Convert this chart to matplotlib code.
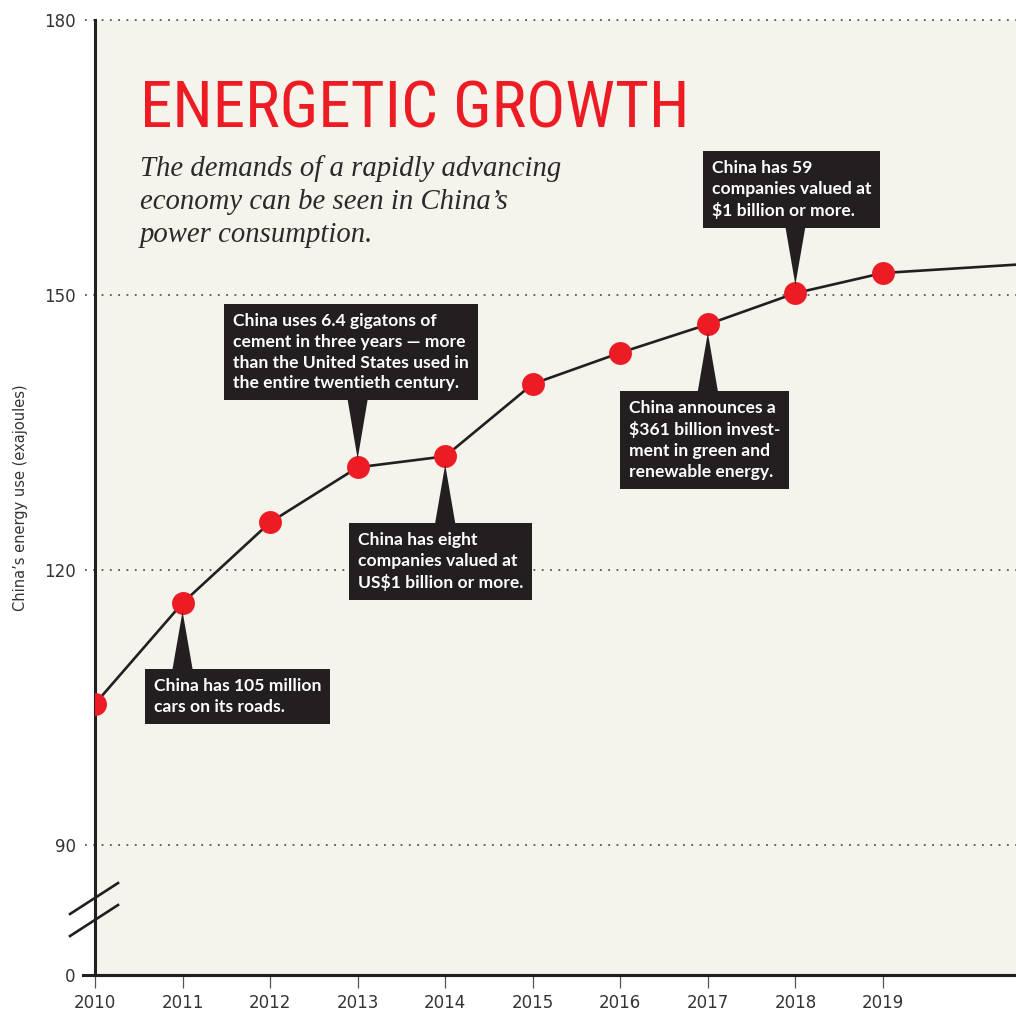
import numpy as np
import matplotlib
matplotlib.use("Agg")
import matplotlib.pyplot as plt

# --- data --------------------------------------------------------------
years = [2010, 2011, 2012, 2013, 2014, 2015, 2016, 2017, 2018, 2019, 2020, 2021]
energy_ej = [105.4, 116.4, 125.2, 131.2, 132.4, 140.3, 143.7, 146.8, 150.2, 152.4, 153.0, 153.6]
n_marked = 10  # dots are drawn for 2010-2019 only

x_ticks = [2010, 2011, 2012, 2013, 2014, 2015, 2016, 2017, 2018, 2019]
y_ticks = [0, 90, 120, 150, 180]
grid_levels = [90, 120, 150, 180]

note_years = [2011, 2013, 2014, 2017, 2018]
note_texts = [
    "China has 105 million\ncars on its roads.",
    "China uses 6.4 gigatons of\ncement in three years \u2014 more\nthan the United States used in\nthe entire twentieth century.",
    "China has eight\ncompanies valued at\nUS$1 billion or more.",
    "China announces a\n$361 billion invest-\nment in green and\nrenewable energy.",
    "China has 59\ncompanies valued at\n$1 billion or more.",
]
# layout: text top-left (axes fraction) and the box edge the pointer leaves from
note_xy = [(0.0641, 0.3110), (0.1498, 0.6932), (0.2856, 0.4639), (0.5798, 0.6021), (0.6699, 0.8534)]
note_edge = [0.318, 0.605, 0.471, 0.609, 0.786]

RED = "#ED1C24"
DARK = "#231F20"
PAPER = "#F4F3EC"
GREY = "#555555"
INK = "#333333"

# axis is broken between 0 and 90: that stretch only gets a short gap
k = 14.18 / 90.0


def fwd(v):
    v = np.asarray(v, dtype=float)
    return np.where(v >= 90, v, 90 - (90 - v) * k)


def inv(u):
    u = np.asarray(u, dtype=float)
    return np.where(u >= 90, u, 90 - (90 - u) / k)


fig = plt.figure(figsize=(10.16, 10.16), dpi=100)
ax = fig.add_axes([95 / 1016, 41 / 1016, 921 / 1016, 955 / 1016])
ax.set_facecolor(PAPER)
ax.set_yscale("function", functions=(fwd, inv))
ax.set_xlim(2010, 2020.52)
ax.set_ylim(0, 180)

# dotted guide lines, running a little past the spine on the left
for lvl in grid_levels:
    ax.axhline(lvl, xmin=-0.011, xmax=1, color=GREY, lw=1.3,
               linestyle=(0, (1, 3.6)), clip_on=False, zorder=1)
ax.axhline(0, xmin=-0.013, xmax=1, color=DARK, lw=2.2, clip_on=False, zorder=3)

ax.plot(years, energy_ej, color=DARK, lw=1.9, zorder=4, solid_capstyle="butt")
ax.plot(years[:n_marked], energy_ej[:n_marked], "o", color=RED, ms=16.5,
        mec="none", zorder=5)

for s in ["top", "right"]:
    ax.spines[s].set_visible(False)
for s in ["left", "bottom"]:
    ax.spines[s].set_color(DARK)
    ax.spines[s].set_linewidth(2.2)
    ax.spines[s].set_zorder(3)

ax.set_xticks(x_ticks)
ax.set_xticklabels([str(y) for y in x_ticks])
ax.set_yticks(y_ticks)
ax.set_yticklabels([str(y) for y in y_ticks])
ax.tick_params(axis="y", length=0, pad=14, labelsize=12, labelcolor=INK)
ax.tick_params(axis="x", length=9, width=0.9, color=GREY, pad=5,
               labelsize=12, labelcolor=INK)
for lab in ax.get_xticklabels() + ax.get_yticklabels():
    lab.set_family("DejaVu Sans")
ax.minorticks_off()

ax.set_ylabel("China\u2019s energy use (exajoules)", fontsize=10.5,
              color=INK, family="DejaVu Sans")
ax.yaxis.set_label_coords(-0.073, 0.5)

# break marks across the left spine
for y0, y1 in [(0.0639, 0.0963), (0.0408, 0.0733)]:
    ax.plot([-0.0271, 0.025], [y0, y1], transform=ax.transAxes, color=DARK,
            lw=1.9, clip_on=False, zorder=6)

# headline and deck
ax.text(0.0489, 0.887, "ENERGETIC GROWTH", transform=ax.transAxes,
        color=RED, fontsize=47, va="baseline", ha="left", fontstretch="condensed",
        family=["Liberation Sans Narrow", "Roboto Condensed", "DejaVu Sans"])
ax.text(0.0489, 0.859,
        "The demands of a rapidly advancing\neconomy can be seen in China\u2019s\npower consumption.",
        transform=ax.transAxes, color="#2A2A2A", fontsize=20.7, style="italic",
        va="top", ha="left", linespacing=1.37,
        family=["Liberation Serif", "DejaVu Serif"])

# callout boxes with wedge pointers
for yr, txt, (tx, ty), edge in zip(note_years, note_texts, note_xy, note_edge):
    val = energy_ej[years.index(yr)]
    ax.annotate("", xy=(yr, val), xycoords="data",
                xytext=(yr, edge), textcoords=("data", "axes fraction"),
                arrowprops=dict(arrowstyle="wedge,tail_width=1.5", mutation_scale=10,
                                fc=DARK, ec="none", shrinkA=0, shrinkB=6),
                zorder=6)
    ax.text(tx, ty, txt, transform=ax.transAxes, color="white", fontsize=12.6,
            fontweight="bold", va="top", ha="left", linespacing=1.37,
            family=["Lato", "DejaVu Sans"], zorder=7,
            bbox=dict(boxstyle="square,pad=0.5", fc=DARK, ec="none"))

fig.savefig("out.png", dpi=100, facecolor="white")
